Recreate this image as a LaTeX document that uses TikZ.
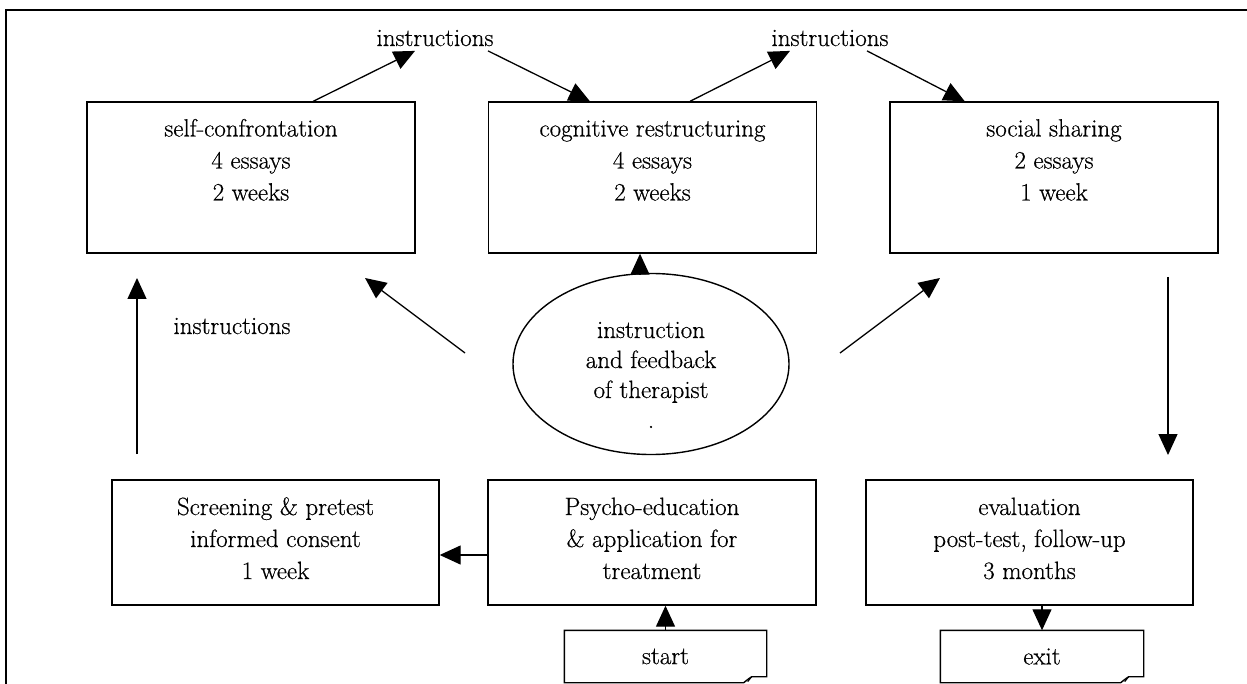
\documentclass[tikz,border=0pt]{standalone}
\usepackage{fontspec}
\setmainfont{Latin Modern Roman}[FakeBold=0.5]
\usetikzlibrary{arrows.meta,shapes.geometric,calc}
\newcommand\mytopstrut{\rule{0pt}{20pt}}
\newcommand\mybotA{\rule[-38pt]{0pt}{0pt}}
\newcommand\mybotB{\rule[-11pt]{0pt}{0pt}}
\begin{document}
\begin{tikzpicture}[x=1pt,y=-1pt,
  line width=1.4pt,
  txt/.style={font=\fontsize{25}{32}\selectfont},
  box/.style={draw, rectangle, line width=1.4pt, align=center, inner sep=0pt, txt},
  topbox/.style={box, minimum width=328pt, minimum height=151pt},
  lowbox/.style={box, minimum width=327pt, minimum height=125pt},
  lab/.style={txt, inner sep=3pt, anchor=base},
  arr/.style={-{Triangle[length=21pt,width=19pt]}, line width=1.3pt},
  notebox/.style={txt, inner sep=0pt, minimum width=201pt, minimum height=51pt},
  ovalbox/.style={draw, ellipse, line width=1.4pt, minimum width=276pt, minimum height=178pt, inner sep=0pt, align=center, font=\fontsize{25}{30}\selectfont},
]
\useasboundingbox (0,0) rectangle (1247,684);
\draw[line width=1.4pt] (1247,10) -- (6,10) -- (6,684);

% boxes
\node[topbox] (sc) at (251,177.5) {\mytopstrut self-confrontation\\4 essays\\2 weeks\mybotA};
\node[topbox] (cr) at (652.5,177.5) {\mytopstrut cognitive restructuring\\4 essays\\2 weeks\mybotA};
\node[topbox] (ss) at (1054,177.5) {\mytopstrut social sharing\\2 essays\\1 week\mybotA};
\node[lowbox] (sp) at (275.5,542.5) {\mytopstrut Screening \& pretest\\informed consent\\1 week\mybotB};
\node[lowbox, minimum width=328pt] (pe) at (652,542.5) {\mytopstrut Psycho-education\\\& application for\\treatment\mybotB};
\node[lowbox] (ev) at (1029.5,542.5) {\mytopstrut evaluation\\post-test, follow-up\\3 months\mybotB};

% ellipse
\node[ovalbox] (ther) at (651,364) {\rule{0pt}{38pt}instruction\\and feedback\\of therapist\\.};

% labels
\node[lab] (ins1) at (435,46) {instructions};
\node[lab] (ins2) at (830,46) {instructions};
\node[lab] (ins3) at (232,334) {instructions};

% start / exit notes
\node[notebox] (start) at (665.5,656.5) {start};
\node[notebox, minimum width=202pt] (exit) at (1042,656.5) {exit};
\foreach \n in {start,exit}{
  \draw[line width=1.4pt] (\n.north west) -- (\n.north east) -- ($(\n.south east)+(0,-6)$)
    -- ($(\n.south east)+(-15,-6)$) .. controls ($(\n.south east)+(-18,-4)$) .. ($(\n.south east)+(-23,0)$)
    -- (\n.south west) -- cycle;
  \draw[line width=1pt] ($(\n.south east)+(-15,-6)$) -- ($(\n.south east)+(-19,-1)$);
}

% connectors
\draw[arr] ($(sc.north west)!0.689!(sc.north east)$) -- ($(ins1.south)+(-20,1)$);
\draw[arr] ($(ins1.south)+(53,1)$) -- ($(cr.north west)!0.31!(cr.north east)$);
\draw[arr] ($(cr.north west)!0.614!(cr.north east)$) -- ($(ins2.south)+(-40,1)$);
\draw[arr] ($(ins2.south)+(37,1)$) -- ($(ss.north west)!0.229!(ss.north east)$);
\draw[arr] ($(ther.north)+(-11,1)$) -- ($(cr.south)+(-12.5,0)$);
\draw[arr] ($(pe.west)+(0,12.5)$) -- ($(sp.east)+(0,12.5)$);
\draw[arr] (start.north) -- (start.north |- pe.south);
\draw[arr] (exit.north |- ev.south) -- (exit.north);

% free arrows
\coordinate (upA) at (137,454); \coordinate (upB) at (137,278);
\coordinate (dlA) at (465,353); \coordinate (dlB) at (365,278);
\coordinate (drA) at (840,353); \coordinate (drB) at (940,278);
\coordinate (dnA) at (1168,277); \coordinate (dnB) at (1168,455);
\draw[arr] (upA) -- (upB);
\draw[arr] (dlA) -- (dlB);
\draw[arr] (drA) -- (drB);
\draw[arr] (dnA) -- (dnB);
\end{tikzpicture}
\end{document}
